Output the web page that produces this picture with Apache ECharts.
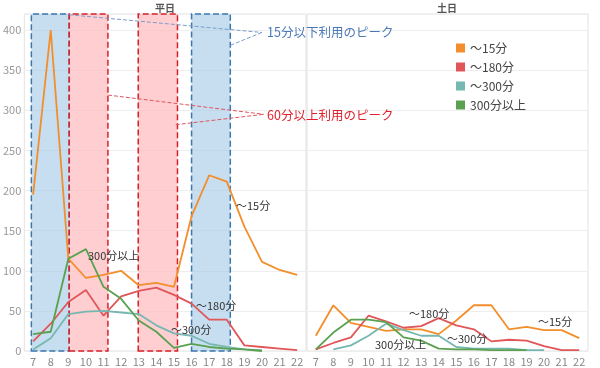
<!DOCTYPE html>
<html><head><meta charset="utf-8">
<script src="https://cdn.jsdelivr.net/npm/echarts@6/dist/echarts.min.js"></script>
<style>html,body{margin:0;padding:0;background:#fff}#c{width:600px;height:368px}</style>
</head><body><div id="c"></div>
<script>
const hours = [7,8,9,10,11,12,13,14,15,16,17,18,19,20,21,22];
const seriesNames = ['～15分','～180分','～300分','300分以上'];
const colors = ['#f28e2b','#e15759','#76b7b2','#59a14f'];
// weekday (平日)
const wd15   = [195,400,115,91,95,100,82,85,80,168,219,211,155,111,101,95];
const wd180  = [12,34,61,76,44,68,75,79,70,59,39,39,7,5,3,1];
const wd300  = [2,16,46,49,50,48,46,32,22,19,9,5,2,1,null,null];
const wd300p = [21,24,115,127,80,65,38,24,4,9,5,3,2,0,null,null];
// weekend (土日)
const we15   = [19,57,35,30,25,27,27,21,38,57,57,27,30,26,26,16];
const we180  = [2,10,17,44,37,29,31,41,32,27,12,14,13,6,1,1];
const we300  = [null,2,7,19,34,26,19,19,5,3,3,3,1,1,null,null];
const we300p = [2,23,39,39,36,17,13,3,2,2,1,1,1,null,null,null];
// shaded peak ranges (hours)
const bluePeaks = [[6.9,9.05],[16,18.2]];
const redPeaks  = [[9.05,11.25],[12.97,15.2]];
const yMax = 420;

const pairs = v => hours.map((h,i)=>[h,v[i]]).filter(p=>p[1]!==null);

const chart = echarts.init(document.getElementById('c'));
const wd = [wd15,wd180,wd300,wd300p], we = [we15,we180,we300,we300p];
const series = [];
wd.forEach((v,i)=>series.push({name:seriesNames[i],type:'line',xAxisIndex:0,yAxisIndex:0,data:pairs(v),
  showSymbol:false,symbol:'none',lineStyle:{width:1.8,color:colors[i]},itemStyle:{color:colors[i]},z:3}));
we.forEach((v,i)=>series.push({name:seriesNames[i],type:'line',xAxisIndex:1,yAxisIndex:1,data:pairs(v),
  showSymbol:false,symbol:'none',lineStyle:{width:1.8,color:colors[i]},itemStyle:{color:colors[i]},z:3}));

// shaded areas + callout lines
series.push({type:'line',xAxisIndex:0,yAxisIndex:0,data:[],z:1,silent:true,
  markArea:{silent:true,data:[
    ...bluePeaks.map(r=>[{xAxis:r[0],yAxis:0,itemStyle:{color:'rgba(160,200,228,0.6)',borderColor:'#3a78b0',borderType:'dashed',borderWidth:1.5}},{xAxis:r[1],yAxis:yMax}]),
    ...redPeaks.map(r=>[{xAxis:r[0],yAxis:0,itemStyle:{color:'rgba(255,185,190,0.7)',borderColor:'#d8202a',borderType:'dashed',borderWidth:1.5}},{xAxis:r[1],yAxis:yMax}])
  ]}});
series.push({type:'line',xAxisIndex:0,yAxisIndex:0,data:[],z:4,silent:true,
  markLine:{silent:true,symbol:'none',label:{show:false},animation:false,data:[
    [{coord:[9.05,419],lineStyle:{color:'#7a9cc8',type:'dashed',width:1}},{coord:[20,397]}],
    [{coord:[18.2,381],lineStyle:{color:'#7a9cc8',type:'dashed',width:1}},{coord:[20,397]}],
    [{coord:[11.25,319],lineStyle:{color:'#e05560',type:'dashed',width:1}},{coord:[20.1,295]}],
    [{coord:[15.1,282],lineStyle:{color:'#e05560',type:'dashed',width:1}},{coord:[20.1,295]}]
  ]}});

const xAx = gi => ({type:'value',gridIndex:gi,min:6.5,max:22.5,interval:0.5,
  axisLine:{show:false},axisTick:{show:false},splitLine:{show:false},
  axisLabel:{color:'#888',fontSize:11,margin:5,fontFamily:'Noto Sans CJK JP',
    formatter:v=>Number.isInteger(v)?String(v):''}});
const yAx = (gi,show) => ({type:'value',gridIndex:gi,min:0,max:yMax,interval:50,
  axisLine:{show:false},axisTick:{show:false},
  splitLine:{show:true,lineStyle:{color:'#eeeeee',width:1}},
  axisLabel:{show:show,color:'#999',fontSize:11,margin:3,fontFamily:'Noto Sans CJK JP',showMaxLabel:true,
    formatter:v=>(v%50===0 && v<=400)?String(v):''}});

const txt = (x,y,t,opt={}) => ({type:'text',x:x,y:y,z:10,style:Object.assign({text:t,fill:'#333',font:'11px "Noto Sans CJK JP"',align:'left',verticalAlign:'middle'},opt)});

chart.setOption({
  animation:false,
  grid:[{left:23,width:283,top:14,bottom:17,show:true,borderColor:'#e2e2e2',borderWidth:1},
        {left:307,width:281,top:14,bottom:17,show:true,borderColor:'#e2e2e2',borderWidth:1}],
  xAxis:[xAx(0),xAx(1)],
  yAxis:[yAx(0,true),yAx(1,false)],
  legend:{orient:'vertical',left:451,top:37,itemWidth:9,itemHeight:9,itemGap:7,icon:'rect',selectedMode:false,
    data:seriesNames,textStyle:{color:'#444',fontSize:12,fontFamily:'Noto Sans CJK JP'}},
  series:series,
  graphic:[
    txt(165,8,'平日',{align:'center',fill:'#555',font:'bold 10px "Noto Sans CJK JP"'}),
    txt(447,8,'土日',{align:'center',fill:'#555',font:'bold 10px "Noto Sans CJK JP"'}),
    txt(267,32,'15分以下利用のピーク',{fill:'#4a78b8',font:'12.5px "Noto Sans CJK JP"'}),
    txt(267,115,'60分以上利用のピーク',{fill:'#e0222c',font:'12.5px "Noto Sans CJK JP"'}),
    txt(236,206,'～15分'),
    txt(88,256,'300分以上'),
    txt(196,306,'～180分'),
    txt(171,330,'～300分'),
    txt(409,314,'～180分'),
    txt(538,322,'～15分'),
    txt(447,339,'～300分'),
    txt(375,345,'300分以上')
  ]
});
</script></body></html>
